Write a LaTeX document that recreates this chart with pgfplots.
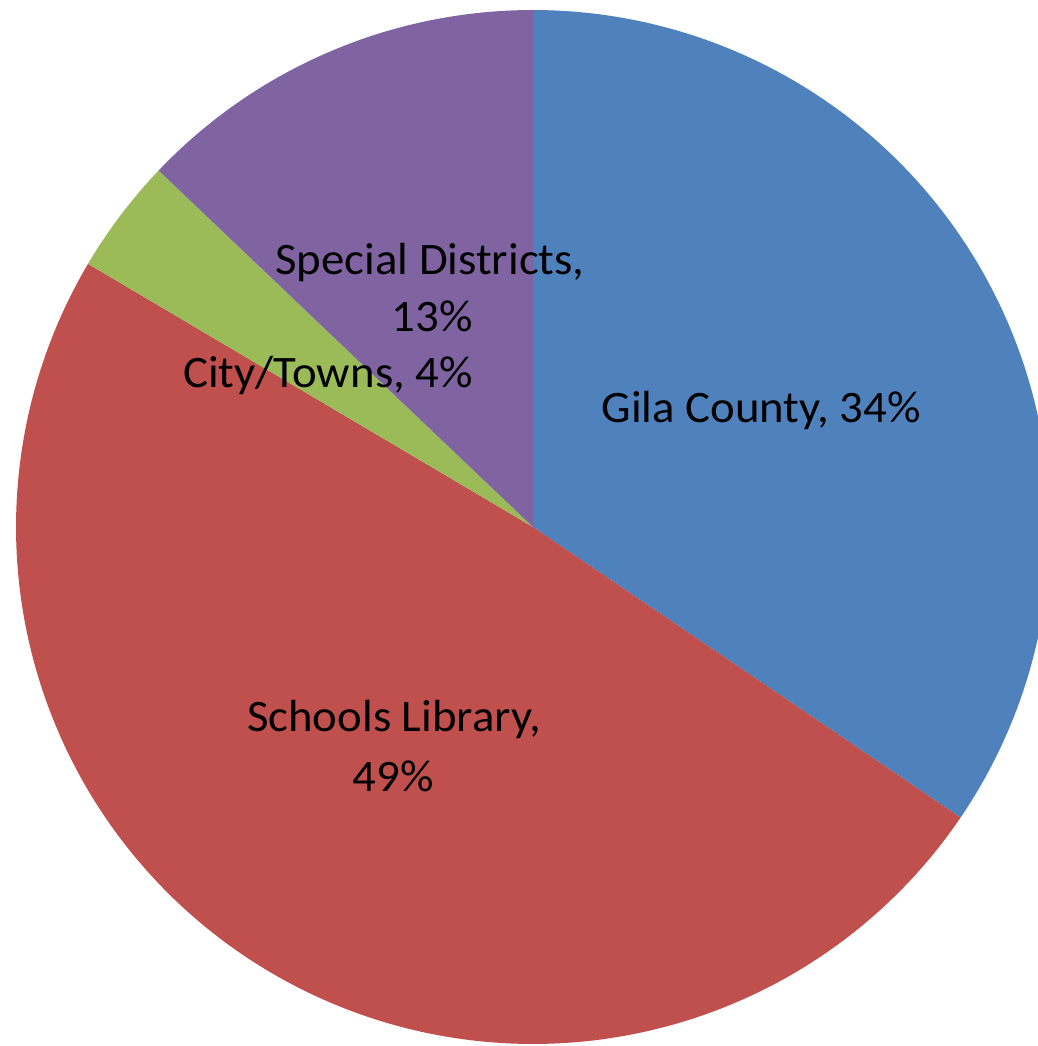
\documentclass[border=0pt]{standalone}
\usepackage{fontspec}
\setmainfont{Carlito}
\usepackage{pgfplots}
\pgfplotsset{compat=1.18}
\definecolor{cBlue}{HTML}{4F81BD}
\definecolor{cRed}{HTML}{C0504D}
\definecolor{cGreen}{HTML}{9BBB59}
\definecolor{cPurple}{HTML}{8064A2}
\newcommand{\lbl}{\fontsize{22.5pt}{27pt}\selectfont}
\begin{document}
\begin{tikzpicture}
% shares: Gila County 34.5, Schools Library 49.0, City/Towns 3.6, Special Districts 12.9
% slices run clockwise from the top (90 deg); 1% = 3.6 deg
\begin{axis}[
  x=0.5pt, y=0.5pt,
  xmin=0, xmax=1038, ymin=0, ymax=1046,
  hide axis, clip=true,
]
\path (axis cs:0,0) rectangle (axis cs:1038,1046);
% Gila County
\addplot[fill=cBlue, draw=none, domain=-34.2:90, samples=120, variable=\t]
  ({533+517*cos(\t)}, {519+517*sin(\t)}) -- (axis cs:533,519) -- cycle;
% Schools Library
\addplot[fill=cRed, draw=none, domain=-210.6:-34.2, samples=160, variable=\t]
  ({533+517*cos(\t)}, {519+517*sin(\t)}) -- (axis cs:533,519) -- cycle;
% City/Towns
\addplot[fill=cGreen, draw=none, domain=-223.6:-210.6, samples=20, variable=\t]
  ({533+517*cos(\t)}, {519+517*sin(\t)}) -- (axis cs:533,519) -- cycle;
% Special Districts
\addplot[fill=cPurple, draw=none, domain=-270:-223.6, samples=50, variable=\t]
  ({533+517*cos(\t)}, {519+517*sin(\t)}) -- (axis cs:533,519) -- cycle;

\node[anchor=base, inner sep=0pt, xscale=1.04] at (axis cs:761,623) {\lbl Gila County, 34\%};
\node[anchor=base, inner sep=0pt, xscale=1.04] at (axis cs:430,771) {\lbl Special Districts,};
\node[anchor=base, inner sep=0pt, xscale=1.04] at (axis cs:432,714) {\lbl 13\%};
\node[anchor=base, inner sep=0pt, xscale=1.04] at (axis cs:328,658) {\lbl City/Towns, 4\%};
\node[anchor=base, inner sep=0pt, xscale=1.04] at (axis cs:394,314) {\lbl Schools Library,};
\node[anchor=base, inner sep=0pt, xscale=1.04] at (axis cs:393,254) {\lbl 49\%};
\end{axis}
\end{tikzpicture}
\end{document}
